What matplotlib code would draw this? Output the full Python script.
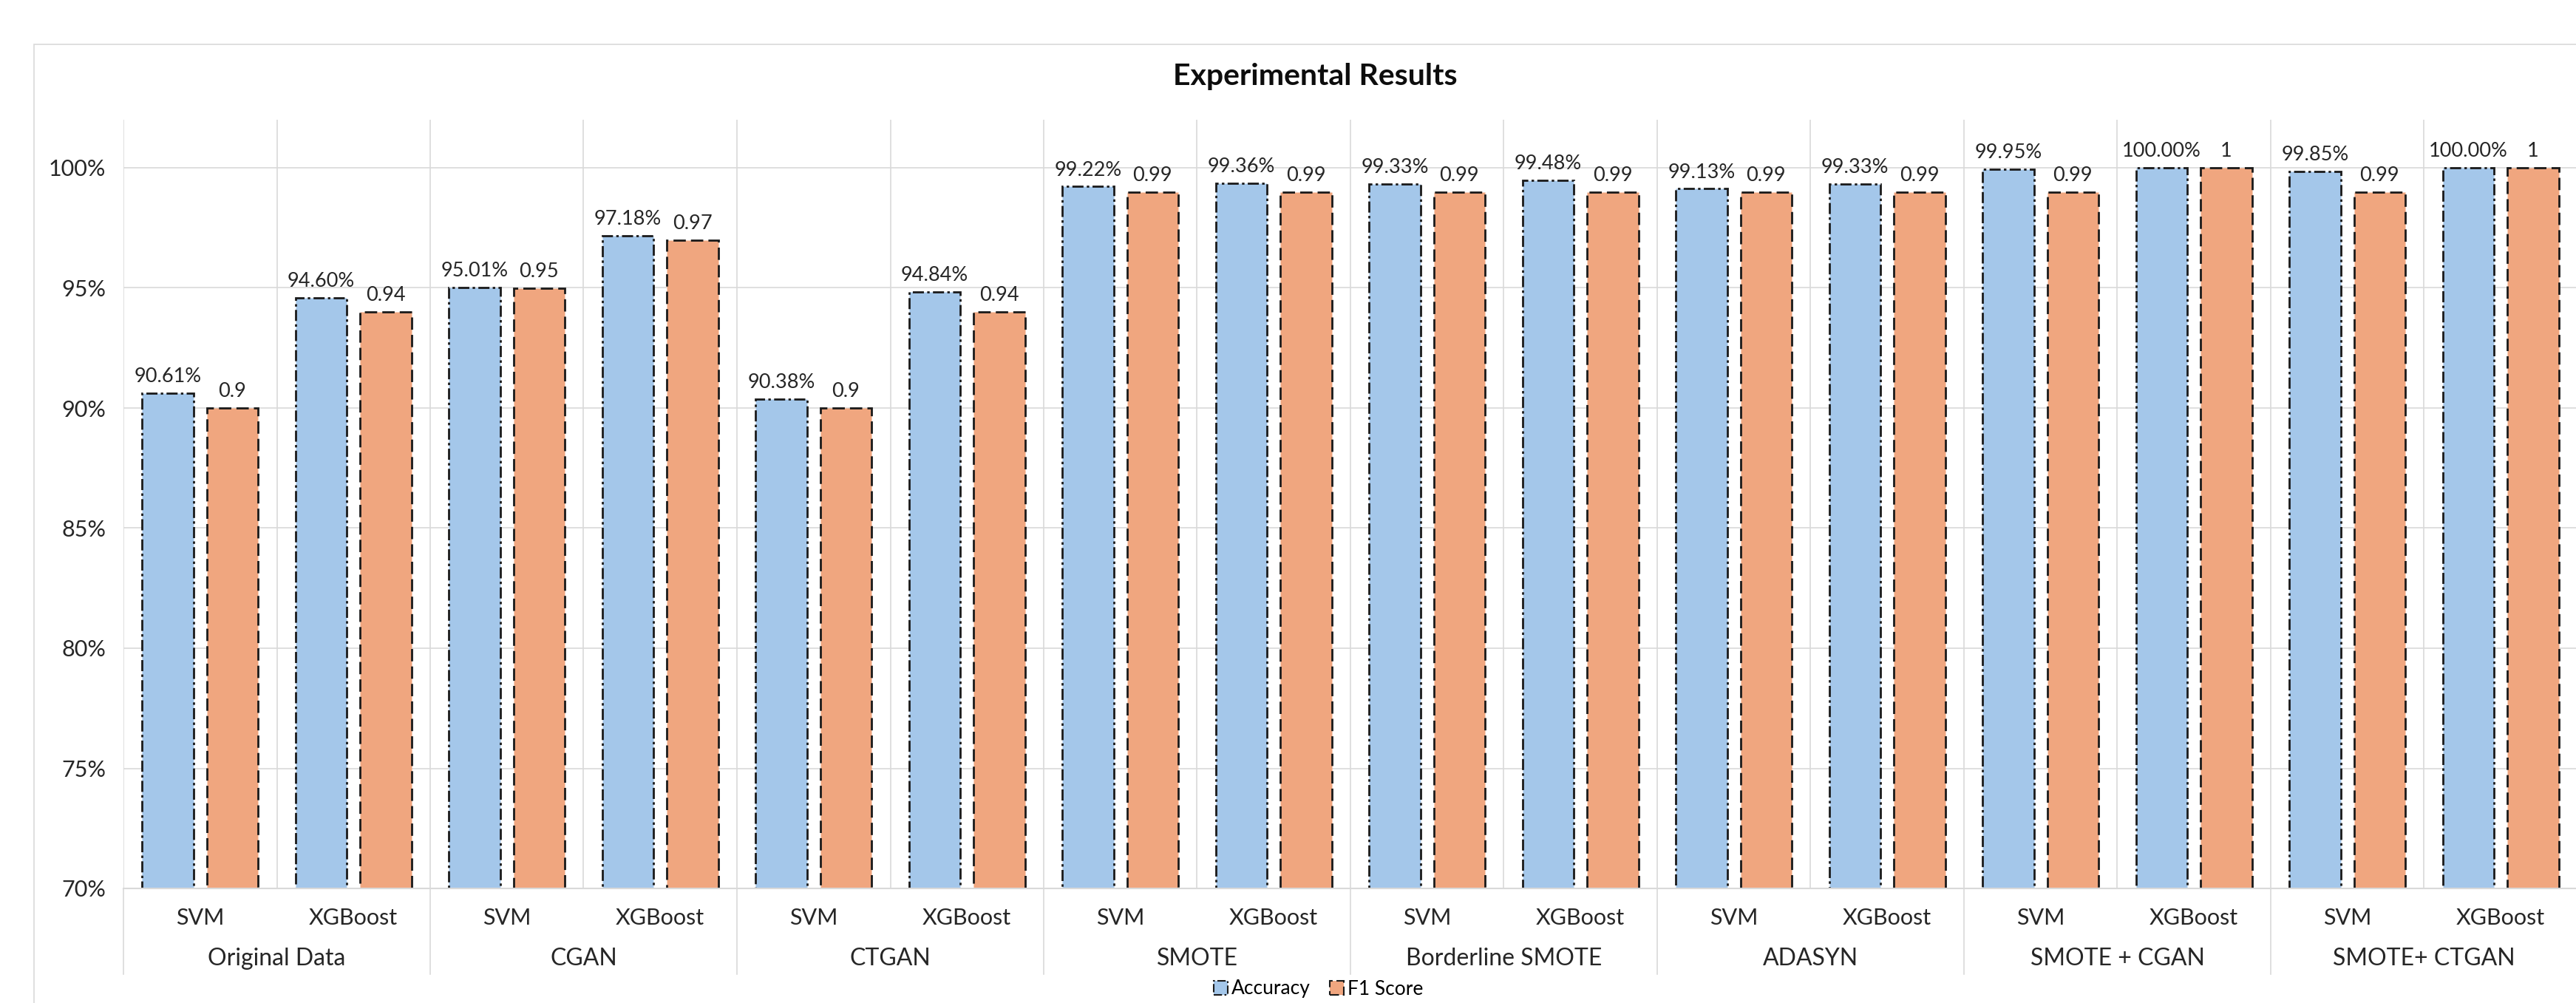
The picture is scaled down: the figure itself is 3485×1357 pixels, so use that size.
import matplotlib.pyplot as plt
from matplotlib.patches import Patch, Rectangle
from matplotlib.ticker import FuncFormatter, MultipleLocator

plt.rcParams["font.family"] = ["Lato", "DejaVu Sans"]

groups = ["Original Data", "CGAN", "CTGAN", "SMOTE", "Borderline SMOTE",
          "ADASYN", "SMOTE + CGAN", "SMOTE+ CTGAN"]
models = ["SVM", "XGBoost"]
accuracy = [0.9061, 0.9460, 0.9501, 0.9718, 0.9038, 0.9484, 0.9922, 0.9936,
            0.9933, 0.9948, 0.9913, 0.9933, 0.9995, 1.0000, 0.9985, 1.0000]
f1_score = [0.90, 0.94, 0.95, 0.97, 0.90, 0.94, 0.99, 0.99,
            0.99, 0.99, 0.99, 0.99, 0.99, 1.00, 0.99, 1.00]

BLUE = "#A4C7EA"
ORANGE = "#F0A67F"
GRID = "#D9D9D9"
TEXT = "#262626"

W, H = 3485, 1357
fig = plt.figure(figsize=(W / 100, H / 100), dpi=100)

# light chart border (runs past the right/bottom edge of the canvas)
fig.patches.append(Rectangle((46 / W, -0.2), 1.2, 1 - 60 / H + 0.2, transform=fig.transFigure,
                             fill=False, edgecolor=GRID, lw=1.2))

ax = fig.add_axes([167 / W, 1 - 1202 / H, (3487 - 167) / W, 1040 / H])

n = len(accuracy)
x = list(range(n))
bw = 0.335
off = 0.21
ymin = 0.70

acc_style = (0, (5.4, 1.6, 1.2, 1.6))
f1_style = (0, (6, 2.5))
ax.bar([i - off for i in x], [a - ymin for a in accuracy], bw, bottom=ymin,
       color=BLUE, edgecolor="#1a1a1a", lw=2.0, linestyle=acc_style, zorder=3)
ax.bar([i + off for i in x], [f - ymin for f in f1_score], bw, bottom=ymin,
       color=ORANGE, edgecolor="#1a1a1a", lw=2.0, linestyle=f1_style, zorder=3)

for i, a in enumerate(accuracy):
    ax.annotate(f"{a * 100:.2f}%", (i - off, a), xytext=(0, 7), textcoords="offset points",
                ha="center", va="bottom", fontsize=19.5, color=TEXT, zorder=4)
for i, f in enumerate(f1_score):
    ax.annotate(f"{f:g}", (i + off, f), xytext=(0, 7), textcoords="offset points",
                ha="center", va="bottom", fontsize=19.5, color=TEXT, zorder=4)

ax.set_xlim(-0.5, n - 0.5)
ax.set_ylim(ymin, 1.02)
ax.yaxis.set_major_locator(MultipleLocator(0.05))
ax.yaxis.set_major_formatter(FuncFormatter(lambda v, _: f"{v * 100:.0f}%"))
ax.set_xticks(x)
ax.set_xticklabels(models * len(groups))
ax.set_xticks([i - 0.5 for i in range(n + 1)], minor=True)
ax.tick_params(axis="both", which="both", length=0, labelsize=22, colors=TEXT)
ax.tick_params(axis="x", pad=19)
ax.tick_params(axis="y", pad=17)

ax.grid(True, axis="y", which="major", color=GRID, lw=1.2, zorder=0)
ax.grid(True, axis="x", which="minor", color=GRID, lw=1.2, zorder=0)
for side in ["left", "right", "top"]:
    ax.spines[side].set_visible(False)
ax.spines["bottom"].set_color(GRID)
ax.spines["bottom"].set_linewidth(1.5)
ax.spines["bottom"].set_zorder(5)

# group labels and separators under the model labels
trans = ax.get_xaxis_transform()
for g, name in enumerate(groups):
    ax.text(2 * g + 0.5, -0.091, name, transform=trans, ha="center", va="center",
            fontsize=23, color=TEXT)
for g in range(len(groups) + 1):
    ax.plot([2 * g - 0.5, 2 * g - 0.5], [0, -0.1115], transform=trans, color=GRID,
            lw=1.2, clip_on=False)

fig.text(1779 / W, 1 - 103 / H, "Experimental Results", ha="center", va="center",
         fontsize=29.5, fontweight="bold", color="#0d0d0d")

handles = [Patch(facecolor=BLUE, edgecolor="#1a1a1a", lw=1.5, linestyle=acc_style),
           Patch(facecolor=ORANGE, edgecolor="#1a1a1a", lw=1.5, linestyle=f1_style)]
fig.legend(handles, ["Accuracy", "F1 Score"], loc="center",
           bbox_to_anchor=(1784 / W, 1 - 1338 / H), ncol=2, frameon=False, fontsize=19,
           handlelength=0.7, handleheight=0.7, handletextpad=0.2, columnspacing=1.0,
           borderpad=0.1)

fig.savefig("out.png", dpi=100, facecolor="white")
